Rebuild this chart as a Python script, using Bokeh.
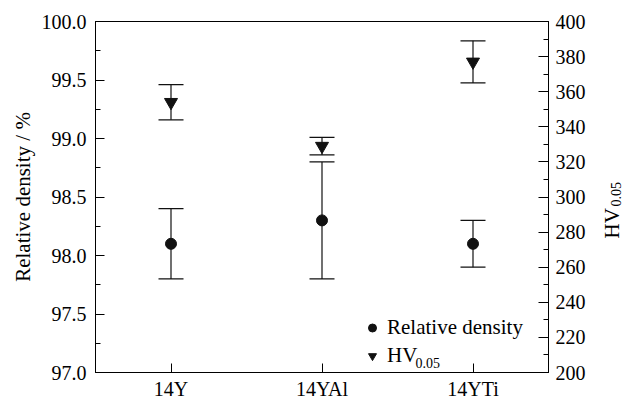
import math
from bokeh.plotting import figure
from bokeh.models import (ColumnDataSource, FactorRange, Range1d, LinearAxis,
                          SingleIntervalTicker, PrintfTickFormatter, Whisker,
                          TeeHead, Legend, LegendItem, Label)
from bokeh.embed import file_html
from bokeh.resources import INLINE

# ---- data ----
categories = ["14Y", "14YAl", "14YTi"]
density = [98.1, 98.3, 98.1]
density_upper = [98.4, 98.8, 98.3]
density_lower = [97.8, 97.8, 97.9]
hv = [354, 329, 377]
hv_upper = [364, 334, 389]
hv_lower = [344, 324, 365]

FONT = "Liberation Serif"
INK = "#111111"

src = ColumnDataSource(dict(x=categories, d=density, du=density_upper, dl=density_lower,
                            h=hv, hu=hv_upper, hl=hv_lower))

p = figure(width=626, height=403, x_range=FactorRange(factors=categories, range_padding=0),
           y_range=Range1d(97.0, 100.0), output_backend="svg", toolbar_location=None,
           min_border_left=95, min_border_right=78, min_border_top=21, min_border_bottom=31)
p.extra_y_ranges = {"hv": Range1d(200, 400)}

p.xgrid.visible = False
p.ygrid.visible = False
p.outline_line_color = "black"
p.outline_line_width = 1
p.background_fill_color = "white"
p.border_fill_color = "white"

# left axis
ya = p.yaxis[0]
ya.ticker = SingleIntervalTicker(interval=0.5, num_minor_ticks=2)
ya.formatter = PrintfTickFormatter(format="%.1f")
ya.axis_label = "Relative density / %"
ya.axis_label_text_font = FONT
ya.axis_label_text_font_size = "21px"
ya.axis_label_text_font_style = "normal"
ya.axis_label_text_color = "black"
ya.axis_label_standoff = 4
ya.major_label_text_font = FONT
ya.major_label_text_font_size = "20px"
ya.major_label_text_color = "black"
ya.major_label_standoff = 9
ya.major_tick_in = 9
ya.major_tick_out = 0
ya.minor_tick_in = 5
ya.minor_tick_out = 0
ya.axis_line_color = "black"
ya.major_tick_line_color = "black"
ya.minor_tick_line_color = "black"

# right axis
ra = LinearAxis(y_range_name="hv", ticker=SingleIntervalTicker(interval=20, num_minor_ticks=2))
ra.major_label_text_font = FONT
ra.major_label_text_font_size = "20px"
ra.major_label_text_color = "black"
ra.major_label_standoff = 7
ra.major_tick_in = 10
ra.major_tick_out = 0
ra.minor_tick_in = 5
ra.minor_tick_out = 0
ra.axis_line_color = "black"
ra.major_tick_line_color = "black"
ra.minor_tick_line_color = "black"
p.add_layout(ra, "right")

# bottom axis
xa = p.xaxis[0]
xa.major_label_text_font = FONT
xa.major_label_text_font_size = "20px"
xa.major_label_text_color = "black"
xa.major_label_standoff = 5
xa.major_tick_in = 9
xa.major_tick_out = 0
xa.axis_line_color = "black"
xa.major_tick_line_color = "black"

# error bars
def whisker(upper, lower, **kw):
    return Whisker(source=src, base="x", upper=upper, lower=lower, dimension="height",
                   line_color=INK, line_width=1.2,
                   upper_head=TeeHead(size=25, line_color=INK, line_width=1.2),
                   lower_head=TeeHead(size=25, line_color=INK, line_width=1.2), **kw)

p.add_layout(whisker("du", "dl"))
p.add_layout(whisker("hu", "hl", y_range_name="hv"))

r1 = p.scatter("x", "d", source=src, marker="circle", size=11, fill_color=INK, line_color=INK)
r2 = p.scatter("x", "h", source=src, marker="inverted_triangle", size=13, fill_color=INK,
               line_color=INK, y_range_name="hv")

legend = Legend(items=[LegendItem(label="Relative density", renderers=[r1]),
                       LegendItem(label="HV", renderers=[r2])],
                location=(267, 4), padding=0, margin=0, spacing=3,
                glyph_width=20, glyph_height=25, label_height=25, label_standoff=5,
                border_line_color=None, background_fill_alpha=0,
                label_text_font=FONT, label_text_font_size="21px", label_text_color="black")
p.add_layout(legend, "center")

p.add_layout(Label(x=320, y=10, x_units="screen", y_units="screen", text="0.05",
                   text_font=FONT, text_font_size="14px", text_baseline="alphabetic",
                   text_align="left", text_color="black"))

# right axis title (rotated) HV with subscript, placed in the right side panel
p.add_layout(Label(x=611, y=238, x_units="canvas", y_units="canvas", text="HV",
                   angle=math.pi / 2, text_font=FONT, text_font_size="21px",
                   text_baseline="alphabetic", text_align="left", text_color="black"), "right")
p.add_layout(Label(x=615, y=206, x_units="canvas", y_units="canvas", text="0.05",
                   angle=math.pi / 2, text_font=FONT, text_font_size="14px",
                   text_baseline="alphabetic", text_align="left", text_color="black"), "right")

open("out.html", "w").write(file_html(p, INLINE))
